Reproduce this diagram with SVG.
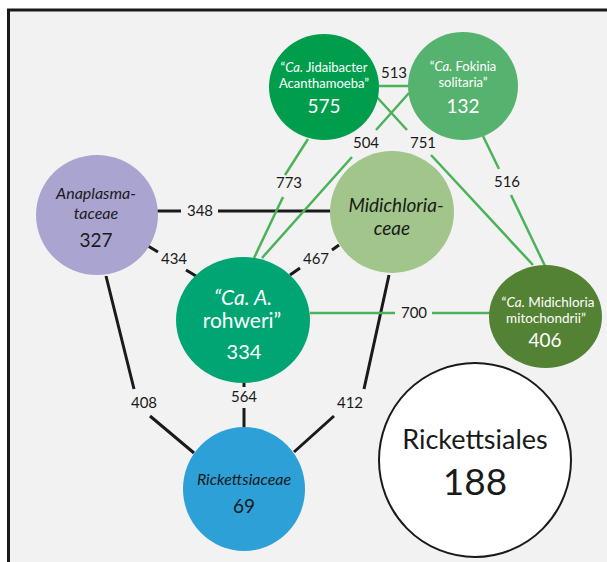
<svg xmlns="http://www.w3.org/2000/svg" width="607" height="562" viewBox="0 0 607 562">
<style>
.lbl{font-family:Lato,"Liberation Sans",sans-serif;font-size:15px;fill:#1a1a1a;text-anchor:middle}
.t{font-family:Lato,"Liberation Sans",sans-serif;text-anchor:middle}
.w{fill:#ffffff}
.k{fill:#1a1a1a}
.it{font-style:italic}
.blk{stroke:#1a1a1a;stroke-width:3;fill:none}
.grn{stroke:#4cb259;stroke-width:2.5;fill:none}
</style>
<rect x="0" y="0" width="607" height="562" fill="#ffffff"/>
<rect x="8.5" y="10" width="620" height="570" fill="#f2f2f2" stroke="#1a1a1a" stroke-width="3"/>
<g id="connectors">
  <path class="blk" d="M157,211H181M218,211H331"/>
  <path class="blk" d="M148,246L158,252M186,270L196,276"/>
  <path class="blk" d="M290,275L300,268M332,250L339,245"/>
  <path class="blk" d="M106,276L134,389M150,416L194,453"/>
  <path class="blk" d="M244,383V387M244,408V428"/>
  <path class="blk" d="M389,275L364,389M334,416L294,452"/>
  <path class="grn" d="M378,86H410"/>
  <path class="grn" d="M308,139L285,175M283,197L254,258"/>
  <path class="grn" d="M409,93L376,130M352,157L262,258"/>
  <path class="grn" d="M375,95L407,130M431,155L533,265"/>
  <path class="grn" d="M483,136L499,169M511,195L545,266"/>
  <path class="grn" d="M310,313H395M432,313H490"/>
  <text class="lbl" x="200" y="216">348</text>
  <text class="lbl" x="174" y="264">434</text>
  <text class="lbl" x="316" y="264">467</text>
  <text class="lbl" x="144" y="408">408</text>
  <text class="lbl" x="244" y="402">564</text>
  <text class="lbl" x="350" y="408">412</text>
  <text class="lbl" x="394" y="78">513</text>
  <text class="lbl" x="289" y="188">773</text>
  <text class="lbl" x="366" y="148">504</text>
  <text class="lbl" x="423" y="148">751</text>
  <text class="lbl" x="507" y="187">516</text>
  <text class="lbl" x="414" y="318">700</text>
</g>
<g id="jidaibacter">
  <ellipse cx="324" cy="87" rx="55" ry="53" fill="#009e4c"/>
  <text class="t w" x="324" y="71.5" font-size="13">“<tspan class="it">Ca.</tspan> Jidaibacter</text>
  <text class="t w" x="324" y="88" font-size="13">Acanthamoeba”</text>
  <text class="t w" x="324" y="112.5" font-size="19">575</text>
</g>
<g id="fokinia">
  <ellipse cx="463" cy="86" rx="55" ry="54" fill="#56b26f"/>
  <text class="t w" x="463" y="71" font-size="13">“<tspan class="it">Ca.</tspan> Fokinia</text>
  <text class="t w" x="463" y="87" font-size="13">solitaria”</text>
  <text class="t w" x="463" y="113" font-size="19">132</text>
</g>
<g id="anaplasmataceae">
  <ellipse cx="97" cy="215" rx="61" ry="60" fill="#aaa4d0"/>
  <text class="t k it" x="96" y="199" font-size="16">Anaplasma-</text>
  <text class="t k it" x="96" y="219" font-size="16">taceae</text>
  <text class="t k" x="96" y="247" font-size="19">327</text>
</g>
<g id="midichloriaceae">
  <ellipse cx="392" cy="212" rx="62" ry="61" fill="#a1c58a"/>
  <text class="t k it" x="396" y="212" font-size="19">Midichloria-</text>
  <text class="t k it" x="392" y="235" font-size="19">ceae</text>
</g>
<g id="rohweri">
  <ellipse cx="243" cy="320" rx="67" ry="63" fill="#00a573"/>
  <text class="t w it" x="243" y="305" font-size="21">“Ca. A.</text>
  <text class="t w" x="242" y="328" font-size="21">rohweri”</text>
  <text class="t w" x="244" y="359" font-size="20">334</text>
</g>
<g id="mitochondrii">
  <ellipse cx="545.5" cy="316.5" rx="56.5" ry="51.5" fill="#548235"/>
  <text class="t w" x="548" y="307" font-size="13.5">“<tspan class="it">Ca.</tspan> Midichloria</text>
  <text class="t w" x="546" y="323" font-size="13.5">mitochondrii”</text>
  <text class="t w" x="545" y="347" font-size="19">406</text>
</g>
<g id="rickettsiaceae">
  <ellipse cx="244" cy="489" rx="61" ry="62" fill="#2da0d7"/>
  <text class="t k it" x="244" y="485" font-size="16">Rickettsiaceae</text>
  <text class="t k" x="244" y="513" font-size="19">69</text>
</g>
<g id="rickettsiales">
  <ellipse cx="475" cy="460" rx="96" ry="97" fill="#ffffff" stroke="#1a1a1a" stroke-width="2"/>
  <text class="t k" x="475" y="449" font-size="27">Rickettsiales</text>
  <text class="t k" x="475" y="495" font-size="37">188</text>
</g>
</svg>
